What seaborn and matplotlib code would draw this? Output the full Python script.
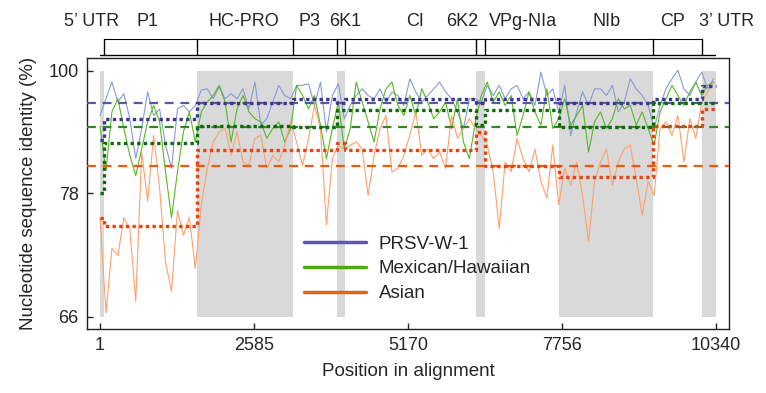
import numpy as np
import matplotlib
matplotlib.use("Agg")
from matplotlib import pyplot as plt
from matplotlib.lines import Line2D
import seaborn as sns

# sliding-window centres along the alignment (nt)
positions = np.arange(1, 10302, 100)

w1_identity = [
    90.0, 93.4, 97.2, 92.7, 94.5, 89.4, 82.7, 87.6, 94.9, 90.0, 91.3, 84.8, 81.3, 91.3, 92.0, 90.7, 92.0, 95.3, 95.6, 93.4, 96.1,
    93.4, 94.5, 93.4, 95.6, 91.3, 97.2, 88.2, 89.4, 92.7, 96.4, 94.1, 93.4, 96.4, 96.4, 96.8, 92.0, 97.2, 87.0, 94.1, 96.8, 89.4,
    92.0, 94.1, 95.6, 94.1, 93.4, 95.6, 92.7, 94.9, 94.1, 92.0, 98.0, 94.9, 92.7, 94.1, 95.6, 97.2, 94.9, 93.4, 90.7, 87.6, 93.4,
    93.4, 92.7, 96.4, 94.1, 96.4, 93.4, 95.6, 96.4, 93.4, 94.9, 92.0, 99.7, 94.1, 95.6, 90.7, 96.4, 86.4, 90.7, 94.9, 92.0, 95.6,
    95.6, 94.1, 96.4, 90.7, 92.7, 98.0, 95.6, 94.1, 92.0, 87.6, 92.0, 95.6, 98.0, 100.2, 95.6, 94.1, 97.2, 99.7, 95.6, 98.0,
]
mexhaw_identity = [
    88.0, 81.0, 90.7, 93.4, 87.6, 83.2, 80.3, 84.2, 88.8, 92.0, 88.8, 80.8, 75.1, 80.8, 87.0, 90.7, 85.3, 90.7, 92.7, 94.1, 96.4,
    92.7, 85.3, 91.3, 94.1, 90.7, 89.4, 88.8, 85.9, 87.6, 88.8, 85.3, 87.6, 96.4, 94.1, 91.3, 94.1, 88.2, 82.7, 87.6, 92.7, 84.2,
    87.6, 97.2, 92.7, 88.8, 85.3, 91.3, 95.6, 97.2, 92.0, 90.0, 94.1, 90.0, 95.6, 92.7, 89.4, 90.7, 92.7, 87.6, 93.4, 85.3, 82.7,
    88.8, 94.1, 97.2, 92.7, 94.9, 92.0, 94.1, 86.4, 90.0, 94.9, 90.7, 88.2, 95.6, 87.6, 89.4, 93.4, 88.2, 90.0, 92.0, 83.7, 88.8,
    90.7, 87.6, 89.4, 93.4, 91.3, 92.0, 88.2, 90.7, 87.6, 84.8, 90.7, 93.4, 96.4, 94.1, 92.0, 94.9, 97.2, 94.1, 96.4, 97.2,
]
asian_identity = [
    75.1, 66.3, 71.9, 71.2, 75.1, 73.9, 67.2, 83.7, 77.0, 86.4, 78.6, 70.6, 68.0, 75.9, 73.2, 75.1, 70.0, 76.6, 81.3, 85.3, 87.0,
    87.6, 83.2, 87.0, 82.2, 81.7, 85.9, 86.4, 81.3, 83.2, 82.2, 84.8, 88.8, 85.3, 81.7, 85.9, 92.0, 87.6, 74.3, 82.7, 84.8, 84.2,
    84.8, 85.3, 84.2, 77.7, 83.2, 87.6, 90.0, 80.8, 81.3, 83.2, 86.4, 90.7, 83.2, 84.2, 82.7, 83.7, 81.3, 90.0, 85.9, 87.6, 89.4,
    87.6, 86.4, 84.8, 80.8, 73.9, 82.2, 80.8, 85.9, 82.7, 80.8, 84.2, 79.5, 77.4, 84.8, 76.6, 81.3, 79.0, 82.2, 77.7, 72.6, 79.5,
    82.2, 84.2, 79.0, 82.2, 84.2, 84.8, 79.9, 75.4, 79.5, 77.7, 87.6, 88.8, 86.4, 90.0, 82.2, 89.4, 85.9, 92.7, 94.9, 97.2,
]

# genome regions (start nt) and per-region mean identity
region_names = ["5\u2019 UTR", "P1", "HC-PRO", "P3", "6K1", "CI", "6K2", "VPg-NIa", "NIb", "CP", "3\u2019 UTR"]
region_starts = [1, 72, 1633, 3234, 3973, 4112, 6306, 6462, 7709, 9277, 10099]
genome_end = 10340
w1_region_mean = [85.7, 89.4, 92.4, 93.4, 92.5, 93.4, 92.4, 93.4, 92.4, 93.4, 96.2]
mexhaw_region_mean = [78.0, 85.1, 88.0, 87.9, 91.1, 91.1, 88.2, 91.1, 87.9, 92.4, 92.4]
asian_region_mean = [75.1, 74.2, 84.1, 84.1, 85.1, 84.1, 87.0, 81.6, 80.1, 88.0, 91.2]
overall_mean = {"PRSV-W-1": 92.4, "Mexican/Hawaiian": 87.9, "Asian": 81.7}

x_ticks = [1, 2585, 5170, 7756, 10340]
y_ticks = [66, 78, 100]

# layout / style
label_x = [-142, 790, 2418, 3525, 4112, 5287, 6076, 7099, 8508, 9616, 10522]
shaded = [0, 2, 4, 6, 8, 10]
styles = {
    "PRSV-W-1": dict(line="#8899d8", step="#3b3595", dash="#5a55a8", legend="#5c5aa8"),
    "Mexican/Hawaiian": dict(line="#56b824", step="#0b6b0b", dash="#2e8b1e", legend="#4aaa1a"),
    "Asian": dict(line="#ffa06c", step="#e8420e", dash="#ea5c0c", legend="#e8630e"),
}

sns.set_style("ticks")
plt.rcParams["font.family"] = ["Liberation Sans", "DejaVu Sans"]
plt.rcParams["font.size"] = 13

fig = plt.figure(figsize=(7.66, 3.93), dpi=100)
ax = fig.add_axes([0.1136, 0.1628, 0.838, 0.6896])

# identity axis is drawn on a compressed (1/y^2) scale as in the original figure
ax.set_yscale("function", functions=(lambda y: -1.0 / np.square(np.maximum(y, 1e-3)),
                                     lambda t: 1.0 / np.sqrt(np.maximum(-t, 1e-12))))

bounds = region_starts + [genome_end]
for k in shaded:
    ax.fill_between([bounds[k], bounds[k + 1]], 66, 100, color="#d9d9d9", lw=0, zorder=0)

series = [("PRSV-W-1", w1_identity, w1_region_mean),
          ("Mexican/Hawaiian", mexhaw_identity, mexhaw_region_mean),
          ("Asian", asian_identity, asian_region_mean)]

for name, vals, _ in series:
    sns.lineplot(x=positions, y=vals, ax=ax, color=styles[name]["line"], lw=0.8, zorder=2)

for name, _, means in series:
    ax.axhline(overall_mean[name], color=styles[name]["dash"], lw=1.6, ls=(0, (4, 3)), zorder=3)
    sns.lineplot(x=bounds, y=means + [means[-1]], ax=ax, color=styles[name]["step"],
                 lw=2.4, ls=(0, (1, 1)), drawstyle="steps-post", zorder=4)

ax.set_xlim(-217, 10557)
ax.set_ylim(65.1, 103.6)
ax.set_xticks(x_ticks)
ax.set_xticklabels([str(t) for t in x_ticks])
ax.set_yticks(y_ticks)
ax.set_yticklabels([str(t) for t in y_ticks])
ax.minorticks_off()
ax.tick_params(direction="in", length=4, width=1, labelsize=13, pad=6)
for s in ax.spines.values():
    s.set_linewidth(1)
    s.set_color("#222222")
ax.set_xlabel("Position in alignment", fontsize=13.5, labelpad=6)
ax.set_ylabel("Nucleotide sequence identity (%)", fontsize=13.5, labelpad=8)

# genome map above the panel
tr = ax.get_xaxis_transform()
ax.plot([1, 10322], [1.011, 1.011], color="black", lw=1, transform=tr, clip_on=False)
ax.plot([region_starts[1], region_starts[-1]], [1.070, 1.070], color="black", lw=0.8,
        transform=tr, clip_on=False)
for b in region_starts[1:]:
    ax.plot([b, b], [1.011, 1.070], color="black", lw=1, transform=tr, clip_on=False)
for name, lx in zip(region_names, label_x):
    ax.text(lx, 1.135, name, transform=tr, ha="center", va="center", fontsize=13)

handles = [Line2D([], [], color=styles[n]["legend"], lw=2.5) for n, _, _ in series]
ax.legend(handles, [n for n, _, _ in series], loc="upper left", bbox_to_anchor=(0.326, 0.372),
          frameon=False, fontsize=13.5, handlelength=3.3, labelspacing=0.4, handletextpad=0.7,
          borderaxespad=0)

fig.savefig("out.png", dpi=100)
